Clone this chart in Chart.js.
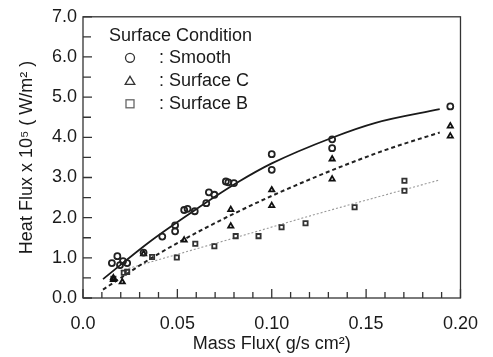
<!DOCTYPE html>
<html>
<head>
<meta charset="utf-8">
<script src="https://cdn.jsdelivr.net/npm/chart.js@4"></script>
<style>
  html, body { margin: 0; padding: 0; background: #fff; }
</style>
</head>
<body>
<canvas id="myChart" width="493" height="357"></canvas>
<script>
const smoothX = [0.0153, 0.0182, 0.0196, 0.0212, 0.0234, 0.0321, 0.042, 0.0488, 0.0488, 0.0536, 0.0554, 0.0592, 0.0653, 0.0667, 0.0696, 0.0757, 0.077, 0.080, 0.100, 0.100, 0.132, 0.132, 0.1946];
const smoothY = [0.87, 1.04, 0.82, 0.92, 0.87, 1.13, 1.53, 1.66, 1.81, 2.19, 2.22, 2.16, 2.36, 2.63, 2.57, 2.90, 2.88, 2.86, 3.58, 3.19, 3.95, 3.73, 4.77];

const surfCX = [0.0161, 0.0161, 0.0208, 0.0321, 0.0536, 0.0783, 0.0783, 0.100, 0.100, 0.132, 0.132, 0.1946, 0.1946];
const surfCY = [0.46, 0.50, 0.40, 1.10, 1.44, 2.20, 1.79, 2.69, 2.30, 3.46, 2.96, 4.28, 4.03];

const surfBX = [0.0161, 0.0216, 0.0234, 0.0366, 0.0497, 0.0595, 0.0696, 0.0809, 0.093, 0.1052, 0.1179, 0.1439, 0.1703, 0.1703];
const surfBY = [0.48, 0.63, 0.65, 1.02, 1.01, 1.35, 1.29, 1.54, 1.54, 1.76, 1.86, 2.26, 2.92, 2.67];

// fitted curves, points
const smoothFitX = [0.0106, 0.035, 0.059, 0.082, 0.1, 0.132, 0.155, 0.189];
const smoothFitY = [0.47, 1.39, 2.18, 2.88, 3.35, 3.99, 4.36, 4.70];
const surfCFitX = [0.0106, 0.04, 0.08, 0.12, 0.16, 0.189];
const surfCFitY = [0.21, 1.1, 2.1, 2.95, 3.68, 4.12];
const surfBFitX = [0.02, 0.045, 0.082, 0.123, 0.189];
const surfBFitY = [0.68, 1.02, 1.52, 2.08, 2.94];

const seriesNames = [': Smooth', ': Surface C', ': Surface B'];
const legendTitle = 'Surface Condition';

// ticks
const xTicks = [0, 0.05, 0.10, 0.15, 0.20];
const xTickLabels = ['0.0', '0.05', '0.10', '0.15', '0.20'];
const xMinorTicks = [0.01, 0.02, 0.03, 0.04, 0.06, 0.07, 0.08, 0.09, 0.11, 0.12, 0.13, 0.14, 0.16, 0.17, 0.18, 0.19];
const yTicks = [0, 1, 2, 3, 4, 5, 6, 7];
const yTickLabels = ['0.0', '1.0', '2.0', '3.0', '4.0', '5.0', '6.0', '7.0'];
const yMinorTicks = [0.5, 1.5, 2.5, 3.5, 4.5, 5.5, 6.5];

const toPts = (xs, ys) => xs.map((x, i) => ({ x: x, y: ys[i] }));

const FONT = "'Liberation Sans', Arial, sans-serif";
const INK = '#1a1a1a';
Chart.defaults.font.family = FONT;
Chart.defaults.color = INK;

// frame + inward tick marks + legend box
const framePlugin = {
    id: 'frame',
    afterDraw(chart) {
        const ctx = chart.ctx;
        const a = chart.chartArea;
        const xs = chart.scales.x, ys = chart.scales.y;
        ctx.save();
        ctx.strokeStyle = '#333';
        ctx.lineWidth = 1.3;
        ctx.strokeRect(a.left, a.top, a.right - a.left, a.bottom - a.top);

        ctx.beginPath();
        xTicks.forEach(v => { const p = xs.getPixelForValue(v); ctx.moveTo(p, a.bottom); ctx.lineTo(p, a.bottom - 9); });
        xMinorTicks.forEach(v => { const p = xs.getPixelForValue(v); ctx.moveTo(p, a.bottom); ctx.lineTo(p, a.bottom - 6); });
        yTicks.forEach(v => { const p = ys.getPixelForValue(v); ctx.moveTo(a.left, p); ctx.lineTo(a.left + 9, p); });
        yMinorTicks.forEach(v => { const p = ys.getPixelForValue(v); ctx.moveTo(a.left, p); ctx.lineTo(a.left + 8, p); });
        ctx.stroke();

        // legend
        ctx.fillStyle = INK;
        ctx.font = '18px ' + FONT;
        ctx.textBaseline = 'middle';
        ctx.textAlign = 'left';
        ctx.fillText(legendTitle, a.left + 26, a.top + 19);
        const rows = [a.top + 41, a.top + 64, a.top + 87];
        const mx = a.left + 47;
        ctx.lineWidth = 1.3;
        // circle
        ctx.strokeStyle = '#333';
        ctx.beginPath(); ctx.arc(mx, rows[0], 4.5, 0, Math.PI * 2); ctx.stroke();
        // triangle
        ctx.beginPath();
        ctx.moveTo(mx, rows[1] - 4.5); ctx.lineTo(mx + 4.8, rows[1] + 3.5); ctx.lineTo(mx - 4.8, rows[1] + 3.5); ctx.closePath();
        ctx.stroke();
        // square
        ctx.strokeStyle = '#666';
        ctx.strokeRect(mx - 4, rows[2] - 4, 8, 8);
        seriesNames.forEach((s, i) => ctx.fillText(s, a.left + 76, rows[i]));
        ctx.restore();
    }
};

const pointStyleOpts = (style, color) => ({
    type: 'scatter',
    pointStyle: style,
    pointRadius: 3,
    pointBorderWidth: 1.8,
    borderColor: color,
    backgroundColor: 'rgba(255,255,255,0)',
    showLine: false
});

const lineOpts = (dash, color, width) => ({
    type: 'line',
    borderColor: color,
    borderWidth: width,
    borderDash: dash,
    pointRadius: 0,
    fill: false,
    cubicInterpolationMode: 'monotone'
});

new Chart(document.getElementById('myChart').getContext('2d'), {
    data: {
        datasets: [
            Object.assign({ label: seriesNames[0], data: toPts(smoothX, smoothY) }, pointStyleOpts('circle', '#222')),
            Object.assign({ label: seriesNames[1], data: toPts(surfCX, surfCY) }, pointStyleOpts('triangle', '#111')),
            Object.assign({ label: seriesNames[2], data: toPts(surfBX, surfBY) }, pointStyleOpts('rect', '#333')),
            Object.assign({ label: 'fit smooth', data: toPts(smoothFitX, smoothFitY) }, lineOpts([], '#1a1a1a', 1.8)),
            Object.assign({ label: 'fit C', data: toPts(surfCFitX, surfCFitY) }, lineOpts([4, 3], '#222', 2)),
            Object.assign({ label: 'fit B', data: toPts(surfBFitX, surfBFitY) }, lineOpts([2, 2], '#999', 1.1))
        ]
    },
    options: {
        responsive: false,
        animation: false,
        devicePixelRatio: 1,
        layout: { padding: { top: 15, right: 24, left: 0, bottom: 0 } },
        plugins: { legend: { display: false }, tooltip: { enabled: false } },
        scales: {
            x: {
                type: 'linear',
                min: 0, max: 0.2,
                grid: { display: false, drawTicks: false },
                border: { display: false },
                afterBuildTicks: s => { s.ticks = xTicks.map(v => ({ value: v })); },
                afterFit: s => { s.height = 59; },
                ticks: {
                    padding: 15,
                    maxRotation: 0,
                    font: { size: 18 },
                    color: INK,
                    callback: (v) => xTickLabels[xTicks.indexOf(v)]
                },
                title: {
                    display: true,
                    text: 'Mass Flux( g/s cm\u00B2)',
                    font: { size: 18 },
                    color: INK,
                    padding: { top: 0, bottom: 2 }
                }
            },
            y: {
                type: 'linear',
                min: 0, max: 7,
                grid: { display: false, drawTicks: false },
                border: { display: false },
                afterBuildTicks: s => { s.ticks = yTicks.map(v => ({ value: v })); },
                afterFit: s => { s.width = 83; },
                ticks: {
                    padding: 6,
                    font: { size: 18 },
                    color: INK,
                    callback: (v) => yTickLabels[yTicks.indexOf(v)]
                },
                title: {
                    display: true,
                    text: 'Heat Flux x 10\u2075 ( W/m\u00B2 )',
                    font: { size: 18 },
                    color: INK,
                    padding: { top: 16, bottom: 0 }
                }
            }
        }
    },
    plugins: [framePlugin]
});
</script>
</body>
</html>
